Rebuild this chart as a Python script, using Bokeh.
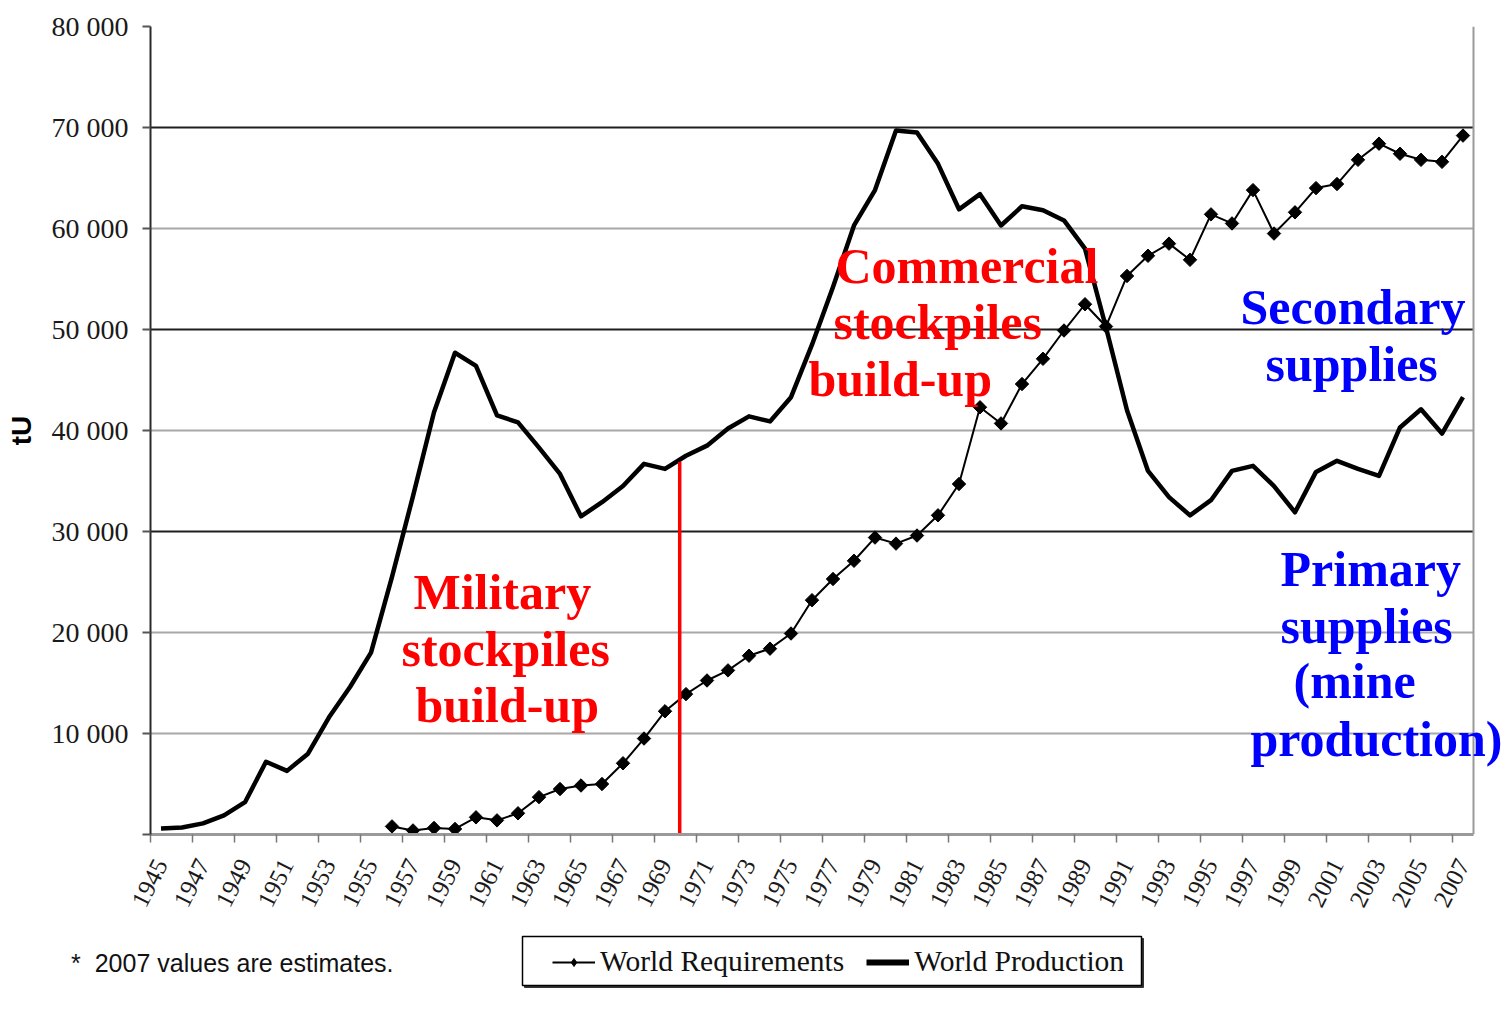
from bokeh.plotting import figure
from bokeh.layouts import column
from bokeh.models import (Range1d, FixedTicker, Grid, Label, Legend, LegendItem,
                          BoxAnnotation, Span)
from bokeh.embed import file_html
from bokeh.resources import INLINE

# ---------------- data (tU) ----------------
prod_years = list(range(1945, 2008))
world_production = [
    600, 700, 1100, 1900, 3200, 7200, 6300, 8000, 11600, 14600,      # 1945-1954
    18000, 25500, 33500, 41800, 47700, 46400, 41500, 40800, 38300, 35700,  # 1955-1964
    31500, 32900, 34500, 36700, 36200, 37500, 38500, 40200, 41400, 40900,  # 1965-1974
    43300, 48500, 54200, 60300, 63800, 69700, 69500, 66400, 61900, 63400,  # 1975-1984
    60300, 62200, 61800, 60800, 58000, 50200, 42000, 36000, 33400, 31600,  # 1985-1994
    33100, 36000, 36500, 34500, 31900, 35900, 37000, 36200, 35500, 40300,  # 1995-2004
    42100, 39700, 43300,                                                   # 2005-2007
]
req_years = list(range(1956, 2008))
world_requirements = [
    800, 400, 650, 550, 1700, 1400, 2100, 3700, 4500,                     # 1956-1964
    4850, 5000, 7050, 9500, 12200, 13900, 15250, 16250, 17700, 18400,     # 1965-1974
    19900, 23200, 25300, 27100, 29400, 28800, 29600, 31600, 34700, 42300, # 1975-1984
    40700, 44600, 47100, 49900, 52500, 50300, 55300, 57300, 58500, 56900, # 1985-1994
    61400, 60500, 63800, 59500, 61600, 64000, 64400, 66800, 68400, 67400, # 1995-2004
    66800, 66600, 69200,                                                  # 2005-2007
]
y_ticks = [0, 10000, 20000, 30000, 40000, 50000, 60000, 70000, 80000]
y_tick_labels = ["", "10 000", "20 000", "30 000", "40 000", "50 000",
                 "60 000", "70 000", "80 000"]
x_label_years = list(range(1945, 2008, 2))
divider_year = 1969.7
divider_top = 36900
footnote = "*\u00a0\u00a02007 values are estimates."

SERIF = "Liberation Serif"
SANS = "Liberation Sans"

# page geometry: frame left 150, top 26, bottom 834; 21 px per year
FL, FB = 150, 834
X0, X1 = 1944.5, 2007.5
EXTRA_PX = 32                      # room right of the chart for overhanging text
x_end = X1 + EXTRA_PX / 21.0
MAIN_H = 930

fig = figure(frame_width=1323 + EXTRA_PX, frame_height=808,
             min_border_left=150, min_border_right=0,
             min_border_top=26, min_border_bottom=MAIN_H - 26 - 808,
             x_range=Range1d(X0, x_end), y_range=Range1d(0, 80000),
             output_backend="svg", toolbar_location=None,
             background_fill_color="white", border_fill_color="white")
fig.outline_line_color = None

# grids
fig.xgrid.visible = False
fig.ygrid.ticker = FixedTicker(ticks=[10000, 20000, 40000, 60000, 80000])
fig.ygrid.grid_line_color = "#a8a8a8"
fig.ygrid.grid_line_width = 2
dark_grid = Grid(dimension=1, ticker=FixedTicker(ticks=[30000, 50000, 70000]),
                 grid_line_color="#1e1e1e", grid_line_width=2)
fig.add_layout(dark_grid)
# blank the strip right of the chart border, then draw the border
fig.add_layout(BoxAnnotation(left=X1, fill_color="white", fill_alpha=1.0,
                             line_alpha=0, level="underlay"))
fig.add_layout(Span(location=X1, dimension="height", line_color="#9a9a9a",
                    line_width=2, level="underlay"))

# y axis
yax = fig.yaxis[0]
yax.ticker = FixedTicker(ticks=y_ticks)
yax.major_label_overrides = {t: s for t, s in zip(y_ticks, y_tick_labels)}
yax.major_label_text_font = SERIF
yax.major_label_text_font_size = "28px"
yax.major_label_text_color = "#1a1a1a"
yax.major_label_standoff = 14
yax.axis_line_color = "#2a2a2a"
yax.axis_line_width = 2
yax.major_tick_in = 0
yax.major_tick_out = 8
yax.major_tick_line_color = "#555555"
yax.major_tick_line_width = 2
yax.minor_tick_line_color = None
yax.axis_label = "tU"
yax.axis_label_text_font = SANS
yax.axis_label_text_font_style = "bold"
yax.axis_label_text_font_size = "28px"
yax.axis_label_text_color = "black"
yax.axis_label_standoff = 12

# x axis
xax = fig.xaxis[0]
xax.bounds = (X0, X1)
xax.ticker = FixedTicker(ticks=x_label_years,
                         minor_ticks=[y - 0.5 for y in x_label_years])
xax.major_tick_line_color = None
xax.major_tick_in = 0
xax.major_tick_out = 8
xax.minor_tick_line_color = "#777777"
xax.minor_tick_line_width = 1.5
xax.minor_tick_in = 0
xax.minor_tick_out = 8
xax.axis_line_color = "#9a9a9a"
xax.axis_line_width = 3
xax.major_label_orientation = 1.1
xax.major_label_text_font = SERIF
xax.major_label_text_font_size = "25px"
xax.major_label_text_color = "#1a1a1a"
xax.major_label_standoff = 18

# series
r_prod = fig.line(prod_years, world_production, line_color="black",
                  line_width=4.5, line_join="round")
r_req_line = fig.line(req_years, world_requirements, line_color="black",
                      line_width=2)
r_req_pts = fig.scatter(req_years, world_requirements, marker="square",
                        angle=0.785398, size=9.5, color="black")
fig.segment(x0=[divider_year], y0=[0], x1=[divider_year], y1=[divider_top],
            line_color="#ff0000", line_width=3.5)

# chart annotations (left edge and baseline in page pixels)
BIG = 50
def add_text(text, left_px, baseline_px, color):
    mid = baseline_px - 0.34 * BIG
    fig.add_layout(Label(x=left_px - FL, y=FB - mid,
                         x_units="screen", y_units="screen", text=text,
                         text_font=SERIF, text_font_style="bold",
                         text_font_size=f"{BIG}px", text_color=color,
                         text_align="left", text_baseline="middle"))

RED, BLUE = "#ff0000", "#0000ff"
chart_texts = [
    ("Military", 413, 608, RED), ("stockpiles", 401, 665, RED),
    ("build-up", 415, 721, RED),
    ("Commercial", 835, 282, RED), ("stockpiles", 833, 338, RED),
    ("build-up", 808, 395, RED),
    ("Secondary", 1240, 323, BLUE), ("supplies", 1265, 380, BLUE),
    ("Primary", 1280, 585, BLUE), ("supplies", 1280, 642, BLUE),
    ("(mine", 1293, 697, BLUE), ("production)", 1250, 755, BLUE),
]
for t, lx, by, c in chart_texts:
    add_text(t, lx, by, c)

# ---------------- bottom strip: legend + footnote ----------------
# (its plot frame is aligned with the chart frame: page x 150..1505)
H2 = 64
BOTTOM2 = MAIN_H + H2
foot = figure(width=1505, height=H2, x_range=Range1d(FL, 1505),
              y_range=Range1d(0, H2), x_axis_location=None,
              y_axis_location="left", min_border=0, output_backend="svg",
              toolbar_location=None, background_fill_color="white",
              border_fill_color="white")
foot.outline_line_color = None
foot.xgrid.visible = False
foot.ygrid.visible = False

# footnote, drawn as the (horizontal) label of an otherwise empty axis
fax = foot.yaxis[0]
fax.ticker = FixedTicker(ticks=[])
fax.axis_line_color = None
fax.major_tick_line_color = None
fax.minor_tick_line_color = None
fax.major_tick_out = 0
fax.major_tick_in = 0
fax.minor_tick_out = 0
fax.major_label_standoff = 0
fax.axis_label = footnote
fax.axis_label_orientation = "horizontal"
fax.axis_label_text_font = SANS
fax.axis_label_text_font_style = "normal"
fax.axis_label_text_font_size = "25px"
fax.axis_label_text_color = "#111111"
fax.axis_label_standoff = FL - 393

# legend frame with a slight drop shadow
foot.quad(left=[524], right=[1143], top=[BOTTOM2 - 938], bottom=[BOTTOM2 - 987],
          fill_color="#333333", line_color="#333333", line_width=1)
foot.quad(left=[522], right=[1141], top=[BOTTOM2 - 936], bottom=[BOTTOM2 - 985],
          fill_color="white", line_color="black", line_width=1.5)
# legend sample renderers (hidden; they only lend their styles to the legend)
l_req = foot.line(req_years, world_requirements, line_color="black",
                  line_width=2, visible=False)
s_req = foot.scatter(req_years, world_requirements, marker="diamond",
                     size=14, color="black", visible=False)
l_prod = foot.line(prod_years, world_production, line_color="black",
                   line_width=6, visible=False)
legend = Legend(items=[
    LegendItem(label="World Requirements", renderers=[l_req, s_req]),
    LegendItem(label="World Production", renderers=[l_prod]),
], location=(552 - FL, BOTTOM2 - 961 - 17), orientation="horizontal",
    label_text_font=SERIF, label_text_font_size="29.5px",
    label_text_color="#111111", label_text_baseline="middle",
    glyph_width=43, glyph_height=20, label_standoff=5, spacing=22,
    padding=0, margin=0, border_line_color=None,
    background_fill_alpha=0, click_policy="none")
foot.add_layout(legend)

p = column(fig, foot, spacing=0)
open("out.html", "w").write(file_html(p, INLINE))
